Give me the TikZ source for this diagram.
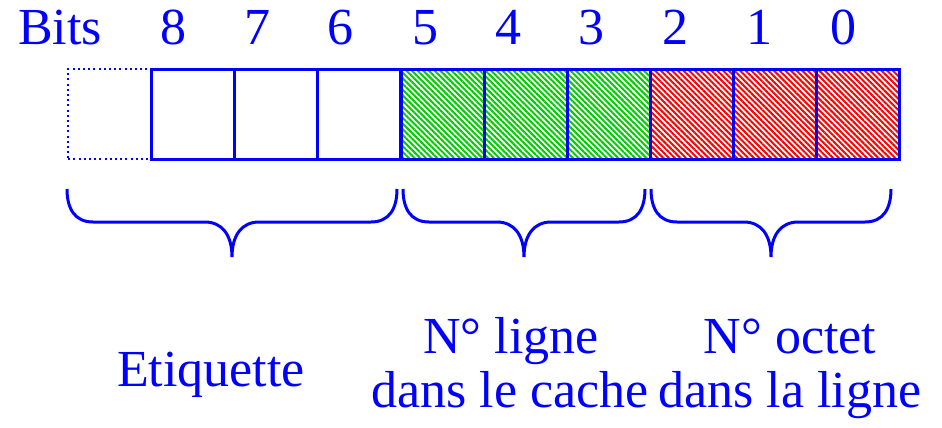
\documentclass[tikz,border=0pt]{standalone}
\usepackage{fontspec}
\setmainfont{Liberation Serif}
\usetikzlibrary{patterns.meta}
\definecolor{hgreen}{RGB}{0,204,0}
\definecolor{hred}{RGB}{255,0,0}
\definecolor{hblue}{RGB}{0,0,255}
\tikzset{
  txt/.style={text=hblue,font=\fontsize{26}{27}\selectfont,inner sep=0pt},
  cell/.style={draw=hblue,line width=1.5pt,minimum width=41.5pt,minimum height=45pt,inner sep=0pt,anchor=north west},
  ghost/.style={draw=hblue,dash pattern=on 1pt off 1.6pt,line width=1.1pt,minimum width=41.5pt,minimum height=45pt,inner sep=0pt,anchor=north west},
  gfill/.style={pattern={Lines[angle=-45,distance=2pt,line width=1pt]},pattern color=hgreen},
  rfill/.style={pattern={Lines[angle=-45,distance=2pt,line width=1pt]},pattern color=hred},
  brc/.style={draw=hblue,line width=1.5pt}
}
\begin{document}
\begin{tikzpicture}[x=0.5pt,y=-0.5pt]
\useasboundingbox (0,0) rectangle (942,428);
% cells
\node[ghost] (bx) at (67,68) {};
\node[cell] (b8) at (150,68) {};
\node[cell] (b7) at (233,68) {};
\node[cell] (b6) at (316,68) {};
\node[cell,gfill] (b5) at (400,68) {};
\node[cell,gfill] (b4) at (483,68) {};
\node[cell,gfill] (b3) at (566,68) {};
\node[cell,rfill] (b2) at (649,68) {};
\node[cell,rfill] (b1) at (732,68) {};
\node[cell,rfill] (b0) at (815,68) {};
% header
\node[txt,anchor=base] (bits) at (60,44) {Bits};
\node[txt,anchor=base] (n8) at (173,44) {8};
\node[txt,anchor=base] (n7) at (257,44) {7};
\node[txt,anchor=base] (n6) at (340,44) {6};
\node[txt,anchor=base] (n5) at (425,44) {5};
\node[txt,anchor=base] (n4) at (508,44) {4};
\node[txt,anchor=base] (n3) at (591,44) {3};
\node[txt,anchor=base] (n2) at (675,44) {2};
\node[txt,anchor=base] (n1) at (759,44) {1};
\node[txt,anchor=base] (n0) at (843,44) {0};
% braces
\draw[brc] (67,189) .. controls (67,209) and (75,222) .. (93,222) -- (205,222)
  .. controls (222,222) and (232,235) .. (232,257)
  .. controls (232,235) and (242,222) .. (259,222) -- (371,222)
  .. controls (389,222) and (397,209) .. (397,189);
\draw[brc] (403,189) .. controls (403,209) and (411,222) .. (429,222) -- (497,222)
  .. controls (514,222) and (524,235) .. (524,257)
  .. controls (524,235) and (534,222) .. (551,222) -- (619,222)
  .. controls (637,222) and (645,209) .. (645,189);
\draw[brc] (651,189) .. controls (651,209) and (659,222) .. (677,222) -- (744,222)
  .. controls (761,222) and (771,235) .. (771,257)
  .. controls (771,235) and (781,222) .. (798,222) -- (865,222)
  .. controls (883,222) and (891,209) .. (891,189);
% labels
\node[txt,anchor=base] (etq) at (211,386) {Etiquette};
\node[txt,anchor=base] (lg1) at (511,353) {N° ligne};
\node[txt,anchor=base] (lg2) at (510,407) {dans le cache};
\node[txt,anchor=base] (oc1) at (790,353) {N° octet};
\node[txt,anchor=base] (oc2) at (790,407) {dans la ligne};
\end{tikzpicture}
\end{document}
